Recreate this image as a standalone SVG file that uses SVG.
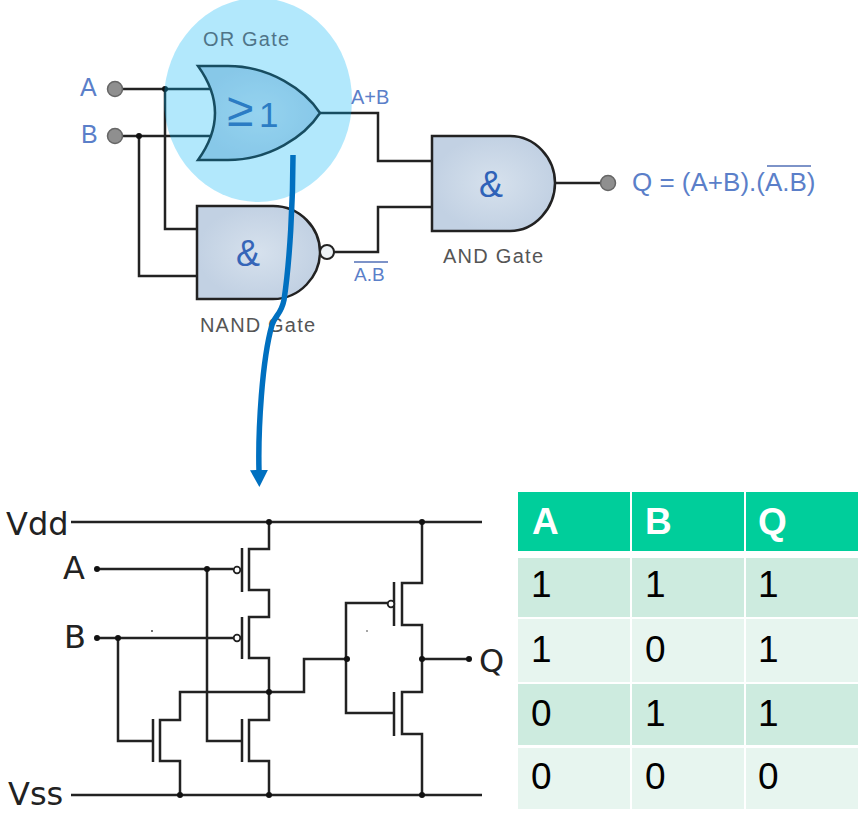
<svg xmlns="http://www.w3.org/2000/svg" width="862" height="829" viewBox="0 0 862 829">
<style>
.w{fill:none;stroke:#222;stroke-width:2.5;stroke-linejoin:miter}
.m{fill:none;stroke:#222;stroke-width:2.5}
.d{fill:#111}
.t{fill:#8f8f8f;stroke:#666;stroke-width:1.5}
.g{fill:url(#gf);stroke:#222;stroke-width:2.5}
.l{font-family:"Liberation Sans",Arial,sans-serif;fill:#5b7fc9}
.c{font-family:"Liberation Sans",Arial,sans-serif;fill:#555;font-size:20px}
.s{font-family:"DejaVu Sans",Verdana,sans-serif;fill:#222;font-size:32px}
.h{font-family:"Liberation Sans",Arial,sans-serif;font-weight:bold;font-size:37px;fill:#fff}
.b{font-family:"Liberation Sans",Arial,sans-serif;font-size:37px;fill:#000}
.hd{fill:#00ce9b}.r1{fill:#cdebdf}.r2{fill:#e7f5ef}
</style>
<defs>
<radialGradient id="gf"><stop offset="0" stop-color="#d6e1ed"/><stop offset="1" stop-color="#c2d1e3"/></radialGradient>
<marker id="ah" markerUnits="userSpaceOnUse" markerWidth="18" markerHeight="18" refX="1" refY="9" orient="auto"><polygon points="0,0 17,9 0,18" fill="#0070c0"/></marker>
</defs>
<g id="connectors">
<path class="w" d="M115,89H210M115,136H210M165,89V229H197M139,136V276H197"/>
<path class="w" d="M320,113H378V161H432M334,252H378V207H432M555,183H608"/>
<path class="w" d="M71,522H482M71,795H482"/>
<path class="w" d="M97,569H233M97,638H233M207,569V741H242M118,638V741H153"/>
<path class="w" d="M269,522V549H249V590H269V617H249V658H269V720H249V761H269V795"/>
<path class="w" d="M180,795V761H160V720H180V692H304V659H347"/>
<path class="w" d="M388,603H346V713H394"/>
<path class="w" d="M422,522V583H402V625H422V692H402V734H422V795M422,659H469"/>
<path class="m" d="M242,548V592M242,617V659M242,719V762M153,719V762M394,582V626M394,692V736"/>
<g class="d"><circle cx="165" cy="89" r="3"/><circle cx="139" cy="136" r="3"/>
<circle cx="269" cy="522" r="3"/><circle cx="422" cy="522" r="3"/><circle cx="97" cy="569" r="3"/><circle cx="207" cy="569" r="3"/><circle cx="97" cy="638" r="3"/><circle cx="118" cy="638" r="3"/><circle cx="269" cy="692" r="3"/><circle cx="347" cy="659" r="3"/><circle cx="422" cy="659" r="3"/><circle cx="469" cy="659" r="3"/><circle cx="180" cy="795" r="3"/><circle cx="269" cy="795" r="3"/><circle cx="422" cy="795" r="3"/></g>
<circle cx="152" cy="631" r="1" fill="#444"/><circle cx="367" cy="631" r="1" fill="#888"/>
<g fill="#fff" stroke="#222" stroke-width="1.8"><circle cx="237" cy="570" r="3.3"/><circle cx="237" cy="638" r="3.3"/><circle cx="391" cy="604" r="3.3"/></g>
<circle class="t" cx="115" cy="89" r="7.5"/><circle class="t" cx="115" cy="136" r="7.5"/><circle class="t" cx="608" cy="183" r="7.5"/>
</g>
<g id="or-gate">
<path class="g" d="M198,66H228C270,66 305,90 320,113C305,136 270,160 228,160H198Q232,113 198,66Z"/>
</g>
<g id="nand-gate">
<path class="g" d="M197,206H273C300,206 320,228 320,252C320,276 300,299 273,299H197Z"/>
<circle cx="327" cy="252" r="7" fill="#eef3f7" stroke="#222" stroke-width="2"/>
<text class="l" x="236" y="266" font-size="36" style="fill:#3565b8">&amp;</text>
<text class="c" x="200" y="332" textLength="115">NAND Gate</text>
<text class="l" x="354" y="281" font-size="19">A.B</text>
<line x1="354" y1="262" x2="388" y2="262" stroke="#7d93c8" stroke-width="2"/>
</g>
<g id="and-gate">
<path class="g" d="M432,136H510C535,136 555,158 555,183C555,208 535,231 510,231H432Z"/>
<text class="l" x="479" y="197" font-size="36" style="fill:#2f62b8">&amp;</text>
<text class="c" x="443" y="263" textLength="100">AND Gate</text>
</g>
<ellipse id="or-highlight" cx="258" cy="100" rx="94" ry="102" fill="#00b4f5" fill-opacity="0.3"/>
<g id="or-labels">
<text class="c" x="203" y="46" textLength="86" style="fill:#4f7488">OR Gate</text>
<text x="227" y="126" font-family="Liberation Sans,Arial,sans-serif" font-size="48" fill="#2b7cc4">≥</text>
<text x="259" y="127" font-family="Liberation Sans,Arial,sans-serif" font-size="35" fill="#2b7cc4">1</text>
</g>
<g id="top-labels">
<text class="l" x="80" y="96" font-size="25">A</text>
<text class="l" x="81" y="143" font-size="25">B</text>
<text class="l" x="351" y="104" font-size="20">A+B</text>
<text class="l" x="632" y="191" font-size="26">Q = (A+B).(A.B)</text>
<line x1="767" y1="166" x2="811" y2="166" stroke="#7d93c8" stroke-width="2.2"/>
</g>
<g id="transistor-labels">
<text class="s" x="6" y="535">Vdd</text>
<text class="s" x="8" y="805">Vss</text>
<text class="s" x="63" y="579">A</text>
<text class="s" x="64" y="648">B</text>
<text class="s" x="479" y="672">Q</text>
</g>
<path id="zoom-arrow" d="M293,155C293,200 290,260 284,300C281,315 275,315 272,325C262,360 258,430 259,471" fill="none" stroke="#0070c0" stroke-width="5.5" marker-end="url(#ah)"/>
<g id="truth-table">
<rect class="hd" x="518" y="492" width="112" height="59"/><rect class="hd" x="632" y="492" width="112" height="59"/><rect class="hd" x="746" y="492" width="112" height="59"/>
<rect class="r1" x="518" y="558" width="112" height="59"/><rect class="r1" x="632" y="558" width="112" height="59"/><rect class="r1" x="746" y="558" width="112" height="59"/>
<rect class="r2" x="518" y="619" width="112" height="63"/><rect class="r2" x="632" y="619" width="112" height="63"/><rect class="r2" x="746" y="619" width="112" height="63"/>
<rect class="r1" x="518" y="684" width="112" height="61"/><rect class="r1" x="632" y="684" width="112" height="61"/><rect class="r1" x="746" y="684" width="112" height="61"/>
<rect class="r2" x="518" y="748" width="112" height="61"/><rect class="r2" x="632" y="748" width="112" height="61"/><rect class="r2" x="746" y="748" width="112" height="61"/>
<text class="h" x="532" y="534">A</text><text class="h" x="645" y="534">B</text><text class="h" x="758" y="534">Q</text>
<text class="b" x="531" y="597">1</text><text class="b" x="645" y="597">1</text><text class="b" x="758" y="597">1</text>
<text class="b" x="531" y="662">1</text><text class="b" x="645" y="662">0</text><text class="b" x="758" y="662">1</text>
<text class="b" x="531" y="726">0</text><text class="b" x="645" y="726">1</text><text class="b" x="758" y="726">1</text>
<text class="b" x="531" y="789">0</text><text class="b" x="645" y="789">0</text><text class="b" x="758" y="789">0</text>
</g>
</svg>
